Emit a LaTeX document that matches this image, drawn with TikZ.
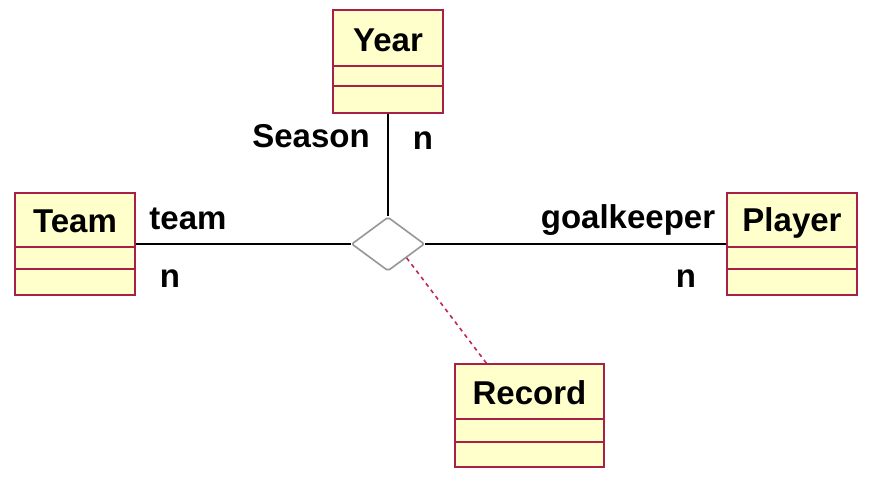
\documentclass[tikz,border=0pt]{standalone}
\usepackage{fontspec}
\setmainfont{Liberation Sans}
\usetikzlibrary{shapes.geometric}
\definecolor{boxfill}{RGB}{255,255,204}
\definecolor{boxline}{RGB}{168,32,72}
\definecolor{dashcol}{RGB}{190,40,90}
\definecolor{diagray}{RGB}{150,150,150}
\tikzset{
  umlbox/.style={draw=boxline, fill=boxfill, line width=1.6pt, inner sep=0pt, rectangle},
  sepline/.style={draw=boxline, line width=1.6pt},
  title/.style={font=\bfseries\fontsize{33}{33}\selectfont, inner sep=0pt},
  lbl/.style={font=\bfseries\fontsize{33}{33}\selectfont, inner sep=0pt},
  conn/.style={draw=black, line width=1.4pt},
  assoc/.style={draw=diagray, fill=white, line width=1.6pt, shape=diamond, inner sep=0pt, rounded corners=2pt},
  dep/.style={draw=dashcol, line width=1.6pt, dash pattern=on 4pt off 4pt}
}
\begin{document}
\begin{tikzpicture}[x=1pt,y=-1pt]
\useasboundingbox[fill=white] (0,0) rectangle (869,478);
% Year
\node[umlbox, minimum width=110pt, minimum height=103pt] (year) at (388,61.5) {};
\draw[sepline] (year.west |- 0,66) -- (year.east |- 0,66);
\draw[sepline] (year.west |- 0,86) -- (year.east |- 0,86);
\node[title] (yeart) at (388,40) {Year};
% Team
\node[umlbox, minimum width=120pt, minimum height=102pt] (team) at (75,244) {};
\draw[sepline] (team.west |- 0,247) -- (team.east |- 0,247);
\draw[sepline] (team.west |- 0,269) -- (team.east |- 0,269);
\node[title] (teamt) at (75,221) {Team};
% Player
\node[umlbox, minimum width=130pt, minimum height=102pt] (player) at (792,244) {};
\draw[sepline] (player.west |- 0,247) -- (player.east |- 0,247);
\draw[sepline] (player.west |- 0,269) -- (player.east |- 0,269);
\node[title] (playert) at (792,223) {Player};
% Record
\node[umlbox, minimum width=149pt, minimum height=103pt] (record) at (529.5,415.5) {};
\draw[sepline] (record.west |- 0,419) -- (record.east |- 0,419);
\draw[sepline] (record.west |- 0,442) -- (record.east |- 0,442);
\node[title] (recordt) at (529.5,393) {Record};
% association diamond
\node[assoc, minimum width=73pt, minimum height=54pt] (dia) at (388,244) {};
% connectors
\draw[conn] (team.east) -- (dia.west);
\draw[conn] (player.west) -- (dia.east);
\draw[conn] (year.south) -- (dia.north);
\coordinate (recin) at (487,364);
\draw[dep] (dia.south east) -- (recin);
% labels
\node[lbl] (lseason) at (311,136) {Season};
\node[lbl] (lyn) at (423,141) {n};
\node[lbl] (lteam) at (188,219) {team};
\node[lbl] (ltn) at (170,279) {n};
\node[lbl] (lgk) at (628,220) {goalkeeper};
\node[lbl] (lpn) at (686,279) {n};
\end{tikzpicture}
\end{document}
